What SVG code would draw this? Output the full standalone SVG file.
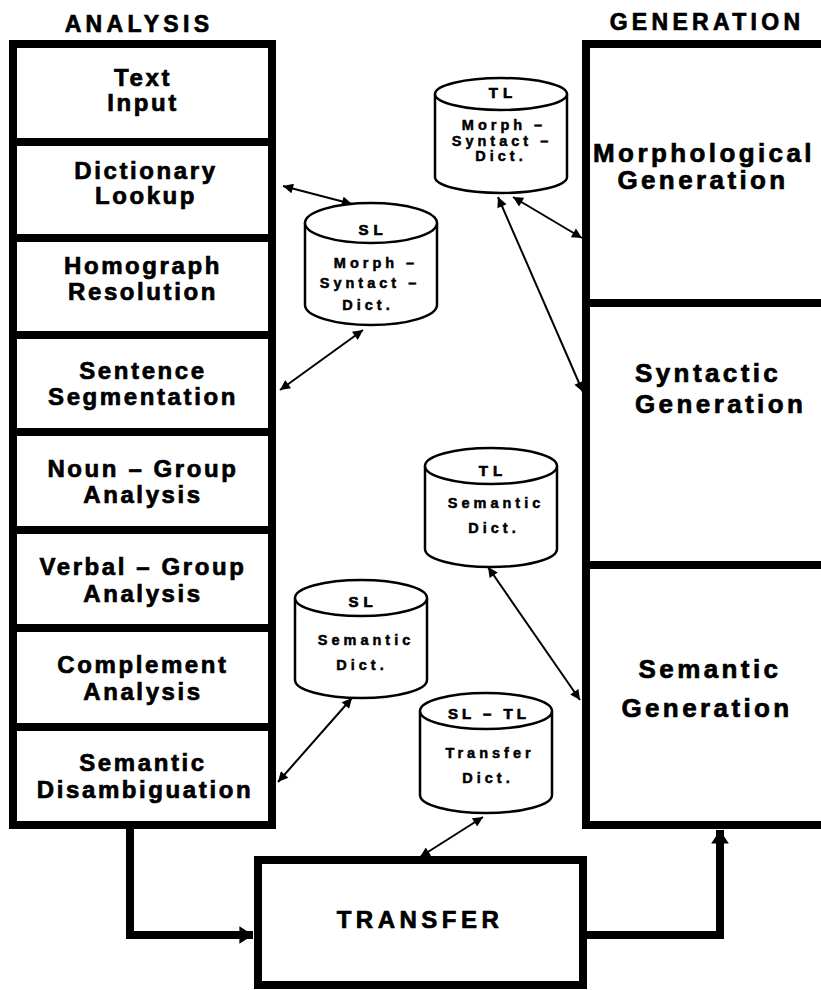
<svg xmlns="http://www.w3.org/2000/svg" width="821" height="990" viewBox="0 0 821 990">
<style>
text{font-family:"Liberation Sans",Arial,sans-serif;font-weight:bold;fill:#000;text-anchor:middle;stroke:#000;stroke-width:0.7}
.box{fill:#fff;stroke:#000;stroke-width:8}
.hdr{font-size:23px;letter-spacing:4.3px}
.lt{font-size:24px;letter-spacing:2.6px}
.rt{font-size:26px;letter-spacing:3.4px}
.cyl{fill:#fff;stroke:#000;stroke-width:2.5}
.ct{font-size:15px;letter-spacing:5px}
.cs{font-size:14.5px;letter-spacing:4px;stroke-width:0.5}
.thin{fill:none;stroke:#000;stroke-width:2;marker-start:url(#ah);marker-end:url(#ah)}
.thick{fill:none;stroke:#000;stroke-width:8}
</style>
<defs>
<marker id="ah" viewBox="0 0 10 10" refX="10" refY="5" markerWidth="6" markerHeight="5" markerUnits="strokeWidth" orient="auto-start-reverse">
<path d="M0,0 L10,5 L0,10 z" fill="#000"/>
</marker>
<marker id="big" viewBox="0 0 10 10" refX="10" refY="5" markerWidth="1.7" markerHeight="2.2" orient="auto" preserveAspectRatio="none">
<path d="M0,0 L10,5 L0,10 z" fill="#000"/>
</marker>
</defs>
<rect width="821" height="990" fill="#fff"/>
<text class="hdr" x="139" y="32">ANALYSIS</text>
<text class="hdr" x="707" y="30">GENERATION</text>

<g id="text-input"><rect class="box" x="13" y="44" width="259" height="98"/><text class="lt" x="143" y="86">Text</text><text class="lt" x="143" y="111">Input</text></g>
<g id="dictionary-lookup"><rect class="box" x="13" y="142" width="259" height="96"/><text class="lt" x="146" y="179">Dictionary</text><text class="lt" x="146" y="204">Lookup</text></g>
<g id="homograph-resolution"><rect class="box" x="13" y="238" width="259" height="97"/><text class="lt" x="143" y="274">Homograph</text><text class="lt" x="143" y="300">Resolution</text></g>
<g id="sentence-segmentation"><rect class="box" x="13" y="335" width="259" height="97"/><text class="lt" x="143" y="379">Sentence</text><text class="lt" x="143" y="405">Segmentation</text></g>
<g id="noun-group-analysis"><rect class="box" x="13" y="432" width="259" height="98"/><text class="lt" x="143" y="477">Noun – Group</text><text class="lt" x="143" y="503">Analysis</text></g>
<g id="verbal-group-analysis"><rect class="box" x="13" y="530" width="259" height="98"/><text class="lt" x="143" y="575">Verbal – Group</text><text class="lt" x="143" y="602">Analysis</text></g>
<g id="complement-analysis"><rect class="box" x="13" y="628" width="259" height="99"/><text class="lt" x="143" y="673">Complement</text><text class="lt" x="143" y="700">Analysis</text></g>
<g id="semantic-disambiguation"><rect class="box" x="13" y="727" width="259" height="98"/><text class="lt" x="143" y="771">Semantic</text><text class="lt" x="145" y="798">Disambiguation</text></g>

<g id="morphological-generation"><rect class="box" x="586" y="44" width="240" height="259"/><text class="rt" x="704" y="162">Morphological</text><text class="rt" x="703" y="189">Generation</text></g>
<g id="syntactic-generation"><rect class="box" x="586" y="303" width="240" height="262"/><text class="rt" x="635" y="382" style="text-anchor:start">Syntactic</text><text class="rt" x="635" y="413" style="text-anchor:start">Generation</text></g>
<g id="semantic-generation"><rect class="box" x="586" y="565" width="240" height="260"/><text class="rt" x="710" y="678">Semantic</text><text class="rt" x="707" y="717">Generation</text></g>

<g id="transfer"><rect class="box" x="258" y="860" width="325" height="125"/><text style="font-size:24px;letter-spacing:4.5px" x="420" y="928">TRANSFER</text></g>

<g id="sl-morph-dict">
<path class="cyl" d="M305,223 V305 A66,20 0 0 0 437,305 V223"/><ellipse class="cyl" cx="371" cy="223" rx="66" ry="20"/>
<text class="ct" x="373" y="235">SL</text><text class="cs" x="376" y="268">Morph –</text><text class="cs" x="370" y="288">Syntact –</text><text class="cs" x="368" y="310">Dict.</text>
</g>
<g id="tl-morph-dict">
<path class="cyl" d="M435,94 V177 A66,16 0 0 0 567,177 V94"/><ellipse class="cyl" cx="501" cy="94" rx="66" ry="16"/>
<text class="ct" x="503" y="98">TL</text><text class="cs" x="504" y="130">Morph –</text><text class="cs" x="502" y="146">Syntact –</text><text class="cs" x="501" y="161">Dict.</text>
</g>
<g id="tl-semantic-dict">
<path class="cyl" d="M425,466 V549 A66,18 0 0 0 557,549 V466"/><ellipse class="cyl" cx="491" cy="466" rx="66" ry="18"/>
<text class="ct" x="493" y="476">TL</text><text class="cs" x="496" y="508">Semantic</text><text class="cs" x="494" y="533">Dict.</text>
</g>
<g id="sl-semantic-dict">
<path class="cyl" d="M295,598 V680 A66,18 0 0 0 427,680 V598"/><ellipse class="cyl" cx="361" cy="598" rx="66" ry="18"/>
<text class="ct" x="363" y="607">SL</text><text class="cs" x="366" y="645">Semantic</text><text class="cs" x="362" y="670">Dict.</text>
</g>
<g id="sl-tl-transfer-dict">
<path class="cyl" d="M420,711 V795 A66,18 0 0 0 552,795 V711"/><ellipse class="cyl" cx="486" cy="711" rx="66" ry="18"/>
<text class="ct" x="489" y="719" style="letter-spacing:4px">SL – TL</text><text class="cs" x="490" y="758">Transfer</text><text class="cs" x="488" y="783">Dict.</text>
</g>

<g id="connectors">
<line class="thin" x1="283" y1="186" x2="352" y2="204"/>
<line class="thin" x1="363" y1="330" x2="280" y2="390"/>
<line class="thin" x1="513" y1="197" x2="582" y2="238"/>
<line class="thin" x1="498" y1="197" x2="583" y2="392"/>
<line class="thin" x1="488" y1="567" x2="580" y2="700"/>
<line class="thin" x1="352" y1="698" x2="278" y2="782"/>
<line class="thin" x1="483" y1="817" x2="420" y2="857"/>
<path class="thick" d="M130,825 V935 H253" marker-end="url(#big)"/>
<path class="thick" d="M583,935 H720 V830" marker-end="url(#big)"/>
</g>
</svg>
